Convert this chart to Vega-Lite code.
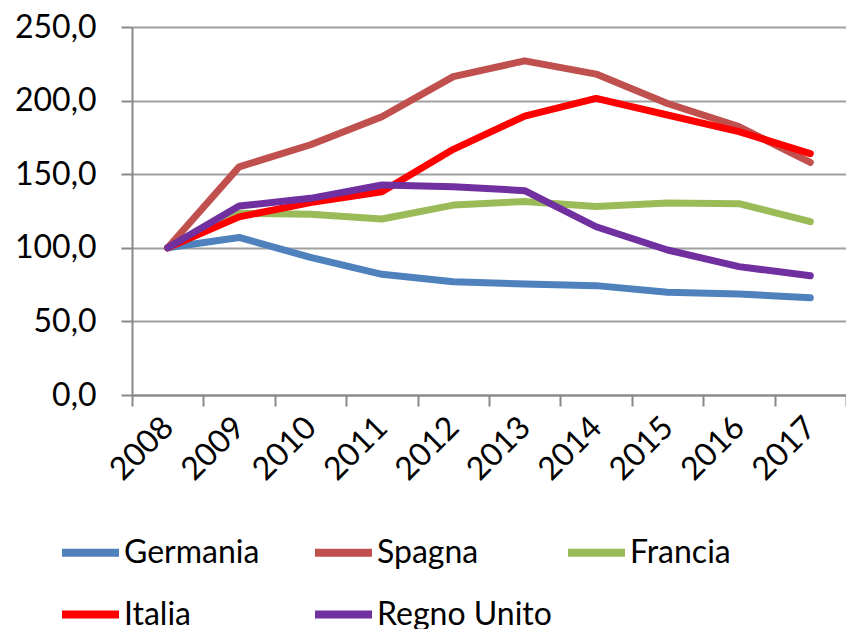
{
  "$schema": "https://vega.github.io/schema/vega-lite/v6.json",
  "width": 714,
  "height": 368,
  "autosize": {"type": "none"},
  "padding": {"left": 132, "top": 27, "right": 0, "bottom": 234},
  "background": "white",
  "config": {
    "locale": {
      "number": {"decimal": ",", "thousands": ".", "grouping": [3], "currency": ["€", ""]}
    },
    "view": {"stroke": null},
    "font": "Lato"
  },
  "data": {
    "values": [
      {"anno": "2008", "paese": "Germania", "valore": 100},
      {"anno": "2009", "paese": "Germania", "valore": 107},
      {"anno": "2010", "paese": "Germania", "valore": 93.5},
      {"anno": "2011", "paese": "Germania", "valore": 82},
      {"anno": "2012", "paese": "Germania", "valore": 77},
      {"anno": "2013", "paese": "Germania", "valore": 75.4},
      {"anno": "2014", "paese": "Germania", "valore": 74.3},
      {"anno": "2015", "paese": "Germania", "valore": 69.8},
      {"anno": "2016", "paese": "Germania", "valore": 68.6},
      {"anno": "2017", "paese": "Germania", "valore": 66},
      {"anno": "2008", "paese": "Spagna", "valore": 100},
      {"anno": "2009", "paese": "Spagna", "valore": 155},
      {"anno": "2010", "paese": "Spagna", "valore": 170},
      {"anno": "2011", "paese": "Spagna", "valore": 189},
      {"anno": "2012", "paese": "Spagna", "valore": 216.3},
      {"anno": "2013", "paese": "Spagna", "valore": 227},
      {"anno": "2014", "paese": "Spagna", "valore": 218},
      {"anno": "2015", "paese": "Spagna", "valore": 198},
      {"anno": "2016", "paese": "Spagna", "valore": 182.3},
      {"anno": "2017", "paese": "Spagna", "valore": 158},
      {"anno": "2008", "paese": "Francia", "valore": 100},
      {"anno": "2009", "paese": "Francia", "valore": 123.4},
      {"anno": "2010", "paese": "Francia", "valore": 122.8},
      {"anno": "2011", "paese": "Francia", "valore": 119.6},
      {"anno": "2012", "paese": "Francia", "valore": 129},
      {"anno": "2013", "paese": "Francia", "valore": 131.5},
      {"anno": "2014", "paese": "Francia", "valore": 128},
      {"anno": "2015", "paese": "Francia", "valore": 130.4},
      {"anno": "2016", "paese": "Francia", "valore": 130},
      {"anno": "2017", "paese": "Francia", "valore": 117.8},
      {"anno": "2008", "paese": "Italia", "valore": 100},
      {"anno": "2009", "paese": "Italia", "valore": 121},
      {"anno": "2010", "paese": "Italia", "valore": 130.7},
      {"anno": "2011", "paese": "Italia", "valore": 138},
      {"anno": "2012", "paese": "Italia", "valore": 166.9},
      {"anno": "2013", "paese": "Italia", "valore": 189.5},
      {"anno": "2014", "paese": "Italia", "valore": 201.5},
      {"anno": "2015", "paese": "Italia", "valore": 190.2},
      {"anno": "2016", "paese": "Italia", "valore": 178.9},
      {"anno": "2017", "paese": "Italia", "valore": 164},
      {"anno": "2008", "paese": "Regno Unito", "valore": 100},
      {"anno": "2009", "paese": "Regno Unito", "valore": 128.4},
      {"anno": "2010", "paese": "Regno Unito", "valore": 133.6},
      {"anno": "2011", "paese": "Regno Unito", "valore": 142.7},
      {"anno": "2012", "paese": "Regno Unito", "valore": 141.5},
      {"anno": "2013", "paese": "Regno Unito", "valore": 138.8},
      {"anno": "2014", "paese": "Regno Unito", "valore": 114.3},
      {"anno": "2015", "paese": "Regno Unito", "valore": 98.5},
      {"anno": "2016", "paese": "Regno Unito", "valore": 87.2},
      {"anno": "2017", "paese": "Regno Unito", "valore": 81}
    ]
  },
  "mark": {"type": "line", "strokeWidth": 7, "strokeCap": "round", "strokeJoin": "round"},
  "encoding": {
    "x": {
      "field": "anno",
      "type": "ordinal",
      "scale": {"type": "band", "paddingInner": 0, "paddingOuter": 0},
      "axis": {
        "title": null,
        "tickBand": "extent",
        "labelAngle": -45,
        "labelAlign": "right",
        "labelBaseline": "middle",
        "labelFontSize": 32,
        "labelColor": "black",
        "labelPadding": 16,
        "tickSize": 11,
        "tickColor": "#888888",
        "tickWidth": 2,
        "domainColor": "#888888",
        "domainWidth": 2,
        "grid": false
      }
    },
    "y": {
      "field": "valore",
      "type": "quantitative",
      "scale": {"domain": [0, 250], "nice": false},
      "axis": {
        "title": null,
        "values": [0, 50, 100, 150, 200, 250],
        "format": ".1f",
        "labelFontSize": 32,
        "labelColor": "black",
        "labelPadding": 25,
        "tickSize": 11,
        "tickColor": "#888888",
        "tickWidth": 2,
        "domainColor": "#888888",
        "domainWidth": 2,
        "grid": true,
        "gridColor": "#a0a0a0",
        "gridWidth": 2
      }
    },
    "color": {
      "field": "paese",
      "type": "nominal",
      "sort": ["Germania", "Spagna", "Francia", "Italia", "Regno Unito"],
      "scale": {
        "domain": ["Germania", "Spagna", "Francia", "Italia", "Regno Unito"],
        "range": ["#4f81bd", "#c0504d", "#9bbb59", "#ff0000", "#7030a0"]
      },
      "legend": {
        "title": null,
        "orient": "none",
        "legendX": -74,
        "legendY": 493,
        "direction": "horizontal",
        "columns": 3,
        "gridAlign": "all",
        "columnPadding": 0,
        "rowPadding": 13,
        "symbolType": "stroke",
        "symbolSize": 3249,
        "symbolStrokeWidth": 8,
        "labelFontSize": 32,
        "labelColor": "black",
        "labelOffset": 1,
        "labelLimit": 400
      }
    },
    "order": {"field": "anno"}
  }
}
